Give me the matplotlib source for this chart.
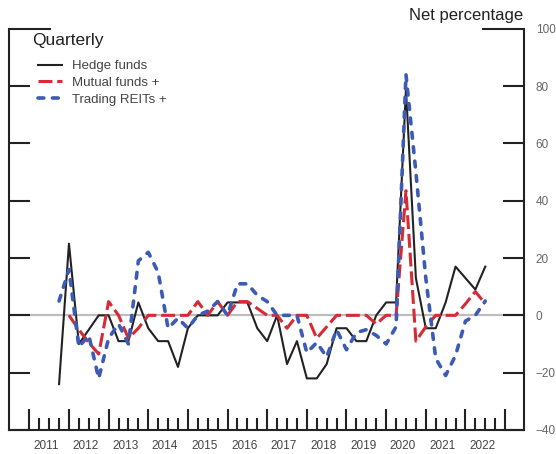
import numpy as np
import matplotlib
matplotlib.use('Agg')
import matplotlib.pyplot as plt

plt.rcParams['font.family'] = ['Liberation Sans', 'DejaVu Sans']
plt.rcParams['lines.scale_dashes'] = False

# quarters 2011Q4 .. 2022Q3, plotted at the start of each quarter
years = [2011] + [y for y in range(2012, 2022) for _ in range(4)] + [2022] * 3
qtrs = [4] + [1, 2, 3, 4] * 10 + [1, 2, 3]

hedge_funds = [-24, 25, -10, -5, 0, 0, -9, -9, 4.5, -4.5, -9, -9, -18, -4.5,
               0, 0, 0, 4.5, 4.5, 4.5, -4.5, -9, 0, -17, -9, -22, -22, -17,
               -4.5, -4.5, -9, -9, 0, 4.5, 4.5, 79, 13, -4.5, -4.5, 4.5, 17,
               13, 9, 17]
mutual_funds = [np.nan, 0, -5, -9.5, -13.5, 4.8, 0, -8, -4.5, 0, 0, 0, 0, 0,
                4.8, 0, 4.8, 0, 4.8, 4.8, 2.4, 0, 0, -4.5, 0, 0, -8, -4,
                0, 0, 0, 0, -3, 0, 0, 43.5, -9, -4, 0, 0, 0, 4, 8.3, 4]
trading_reits = [5, 16, -11, -7, -22, -8, -3, -10, 19, 22, 15, -4.5, -1, -4.5,
                 0, 1.5, 4.8, 0, 11, 11, 7, 4.8, 0, 0, 0, -13, -9.5, -14.5,
                 -5, -12, -6, -5, -7, -10, -4, 84, 50, 13, -15, -21, -14,
                 -2, 0, 5]

x = np.array(years) + (np.array(qtrs) - 1) / 4.0

fig = plt.figure(figsize=(5.56, 4.54), dpi=100)
ax = fig.add_axes([8.5 / 556, 1 - 430 / 454, 515.5 / 556, 401.3 / 454])

ax.axhline(0, color='#bdbdbd', lw=1.6, zorder=1)

ax.plot(x, hedge_funds, color='#222222', lw=1.5, label='Hedge funds', zorder=3)
ax.plot(x, mutual_funds, color='#d62a35', lw=2.2, dashes=(10, 3.5),
        label='Mutual funds +', zorder=4)
ax.plot(x, trading_reits, color='#3b5bb5', lw=2.6, dashes=(4.2, 6.2),
        dash_capstyle='round', label='Trading REITs +', zorder=5)

ax.set_xlim(2010.475, 2023.477)
ax.set_ylim(-40, 100)

# x axis: year ticks tall, quarter ticks short, labels centred in year
ax.set_xticks(np.arange(2011, 2024))
ax.set_xticks(np.arange(2011, 2023, 0.25), minor=True)
ax.tick_params(axis='x', which='major', direction='in', length=15, width=1.5,
               color='#222222', labelbottom=False)
ax.tick_params(axis='x', which='minor', direction='in', length=8.5, width=1.5,
               color='#222222')
for yr in range(2011, 2023):
    ax.annotate(str(yr), xy=(yr + 0.42, 0), xycoords=('data', 'axes fraction'),
                xytext=(0, -7.3), textcoords='offset points', ha='center',
                va='top', fontsize=8.5, color='#444444')

ax.set_yticks(np.arange(-40, 101, 20))
ax.tick_params(axis='y', which='major', direction='in', length=15, width=1.5,
               color='#222222', left=True, right=True, labelleft=False,
               labelright=True, pad=8.5, labelsize=8.5, labelcolor='#666666')
top_tick = ax.yaxis.get_major_ticks()[-1]
top_tick.tick1line.set_markersize(30)
top_tick.tick2line.set_markersize(30)

ax.spines['top'].set_visible(False)
for s in ['left', 'right', 'bottom']:
    ax.spines[s].set_linewidth(1.5)
    ax.spines[s].set_color('#222222')

ax.text(0.0456, 0.959, 'Quarterly', transform=ax.transAxes, fontsize=12.5,
        va='baseline', ha='left', color='#222222')
fig.text(523 / 556, 1 - 20 / 454, 'Net percentage', fontsize=12, ha='right',
         va='baseline', color='#222222')

leg = ax.legend(loc='upper left', bbox_to_anchor=(0.057, 0.922), frameon=False,
                fontsize=9.5, handlelength=1.8, handletextpad=0.8,
                labelspacing=0.35, borderaxespad=0, borderpad=0)
for t in leg.get_texts():
    t.set_color('#444444')

fig.savefig('out.png', dpi=100)
